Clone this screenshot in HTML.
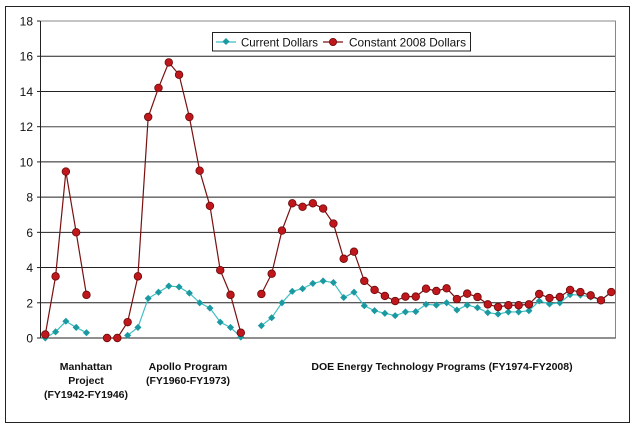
<!DOCTYPE html>
<html><head><meta charset="utf-8"><style>
html,body{margin:0;padding:0;background:#fff;}
svg{display:block;font-family:"Liberation Sans",Arial,sans-serif;}
</style></head><body>
<svg id="s" width="638" height="428" viewBox="0 0 638 428" xmlns="http://www.w3.org/2000/svg">
<rect x="0" y="0" width="638" height="428" fill="#fff"/>
<rect x="5.5" y="6.5" width="624" height="416" fill="none" stroke="#222" stroke-width="1"/>
<g id="grid"></g>
<rect x="40.5" y="21" width="575" height="317" fill="none" stroke="#888" stroke-width="1"/>
<line x1="40.5" y1="21" x2="40.5" y2="338" stroke="#222"/>
<line x1="40.5" y1="338" x2="615.5" y2="338" stroke="#222"/>
<g id="ticks" font-size="12" fill="#111" text-anchor="end"></g>
<g id="series"></g>
<rect x="212.5" y="32.5" width="258" height="18.5" fill="#fff" stroke="#222"/>
<line x1="216" y1="42" x2="236" y2="42" stroke="#3fbfc4" stroke-width="1.2"/>
<rect x="223.5" y="39" width="5" height="5" fill="#1a9aa0" transform="rotate(45 226 41.5)"/>
<text x="241" y="46.5" font-size="12" fill="#111" textLength="77" lengthAdjust="spacingAndGlyphs">Current Dollars</text>
<line x1="323" y1="42" x2="343" y2="42" stroke="#7a1010" stroke-width="1.2"/>
<circle cx="333" cy="42" r="3.6" fill="#c0171c" stroke="#6a0a0a" stroke-width="0.8"/>
<text x="349" y="46.5" font-size="12" fill="#111" textLength="117" lengthAdjust="spacingAndGlyphs">Constant 2008 Dollars</text>
<g font-size="10.5" font-weight="bold" fill="#111" text-anchor="middle">
<text x="86" y="370">Manhattan</text>
<text x="86" y="384">Project</text>
<text x="86" y="398">(FY1942-FY1946)</text>
<text x="188" y="370">Apollo Program</text>
<text x="188" y="384">(FY1960-FY1973)</text>
<text x="442" y="370">DOE Energy Technology Programs (FY1974-FY2008)</text>
</g>
</svg>
<script>
var NS="http://www.w3.org/2000/svg";
function el(t,a,p){var e=document.createElementNS(NS,t);for(var k in a)e.setAttribute(k,a[k]);p.appendChild(e);return e;}
var Y=function(v){return 338-v*17.61;};
var X=function(i){return 45.3+i*10.29;};
var g=document.getElementById('grid'),tk=document.getElementById('ticks');
for(var v=0;v<=18;v+=2){var y=Y(v);
 if(v>0&&v<18)el('line',{x1:40.5,y1:y,x2:615.5,y2:y,stroke:v==12?'#777':'#222','stroke-width':v==12?1.3:1},g);
 el('line',{x1:37,y1:y,x2:40.5,y2:y,stroke:'#222'},g);
 var t=el('text',{x:33,y:y+4.5},tk);t.textContent=v;}
var N=null;
var cur=[0,0.35,0.95,0.6,0.3,N,N,N,0.15,0.6,2.25,2.6,2.95,2.9,2.55,2.0,1.7,0.9,0.6,0.05,N,0.7,1.15,2.0,2.65,2.8,3.1,3.24,3.15,2.3,2.6,1.83,1.55,1.4,1.27,1.48,1.5,1.91,1.87,2.0,1.59,1.87,1.72,1.44,1.36,1.48,1.48,1.55,2.1,1.93,2.0,2.46,2.44,2.33,2.16,2.61];
var con=[0.2,3.5,9.45,6.0,2.45,N,0,0,0.9,3.5,12.55,14.2,15.65,14.95,12.55,9.5,7.5,3.85,2.45,0.3,N,2.5,3.65,6.1,7.65,7.45,7.65,7.35,6.5,4.5,4.9,3.24,2.73,2.39,2.1,2.35,2.35,2.8,2.67,2.82,2.21,2.52,2.33,1.91,1.76,1.86,1.86,1.91,2.5,2.27,2.33,2.73,2.61,2.42,2.14,2.61];
var s=document.getElementById('series');
function draw(d,col,cb){var segs=[],c=[];d.forEach(function(v,i){if(v===N){if(c.length)segs.push(c);c=[];}else c.push([X(i),Y(v)]);});if(c.length)segs.push(c);
 segs.forEach(function(sg){el('polyline',{points:sg.map(function(p){return p.join(',')}).join(' '),fill:'none',stroke:col,'stroke-width':1.2},s);});
 d.forEach(function(v,i){if(v!==N)cb(X(i),Y(v));});}
draw(cur,'#3fbfc4',function(x,y){el('rect',{x:x-2.5,y:y-2.5,width:5,height:5,fill:'#1a9aa0',transform:'rotate(45 '+x+' '+y+')'},s);});
draw(con,'#7a1010',function(x,y){el('circle',{cx:x,cy:y,r:3.8,fill:'#c0171c',stroke:'#6a0a0a','stroke-width':0.8},s);});
</script>
</body></html>
